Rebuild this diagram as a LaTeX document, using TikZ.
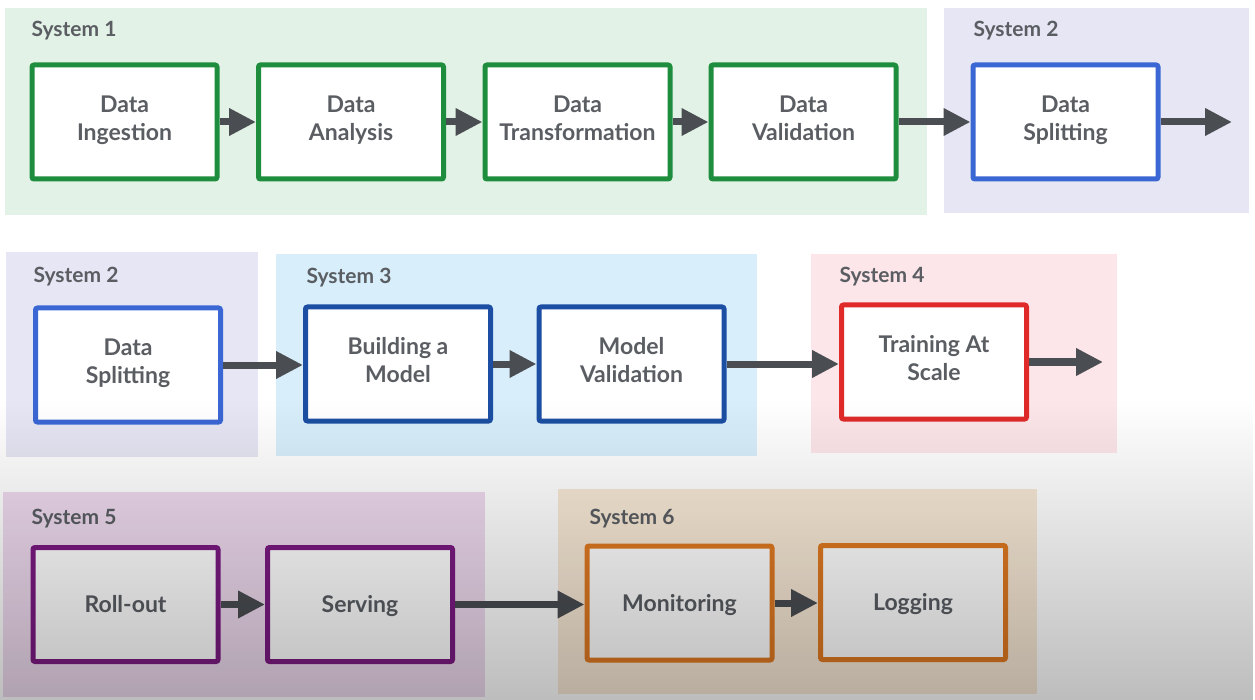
\documentclass[tikz,border=0pt]{standalone}
\usepackage{fontspec}
\setmainfont{Lato}
\usetikzlibrary{arrows.meta,fadings}

\definecolor{txtgrey}{HTML}{5A5E63}
\definecolor{arrowgrey}{HTML}{4A4D52}
\definecolor{sysonebg}{HTML}{E3F2E6}
\definecolor{systwobg}{HTML}{E6E6F4}
\definecolor{systhreebg}{HTML}{D8EFFB}
\definecolor{sysfourbg}{HTML}{FDE6EA}
\definecolor{sysfivebg}{HTML}{EEDAEE}
\definecolor{syssixbg}{HTML}{F8E9D6}
\definecolor{greenline}{HTML}{1E8E3E}
\definecolor{blueline}{HTML}{3B67D4}
\definecolor{navyline}{HTML}{1C4FA3}
\definecolor{redline}{HTML}{E02A2A}
\definecolor{purpleline}{HTML}{7B1A82}
\definecolor{orangeline}{HTML}{E07A22}

\tikzfading[name=dimfade, top color=transparent!100, bottom color=transparent!74]

\begin{document}
\begin{tikzpicture}[x=1pt, y=-1pt,
    stage/.style={draw, line width=5pt, rounded corners=2pt, fill=white,
        minimum width=185pt, minimum height=114pt, align=center,
        font=\fontsize{23}{28}\selectfont\bfseries, text=txtgrey,
        execute at begin node=\rule{0pt}{25pt}, execute at end node=\strut},
    systitle/.style={anchor=base west, font=\fontsize{21}{25}\selectfont\bfseries, text=txtgrey},
    flow/.style={draw=arrowgrey, line width=7pt, -{Triangle[length=27pt,width=26pt]}}]

    % Canvas
    \fill[white] (0, 0) rectangle (1255, 700);
    \useasboundingbox (0, 0) rectangle (1255, 700);

    % Draw the system panels
    \fill[sysonebg] (5, 8) rectangle (927, 215);
    \fill[systwobg] (944, 8) rectangle (1249, 213);
    \fill[systwobg] (6, 252) rectangle (258, 457);
    \fill[systhreebg] (276, 254) rectangle (757, 456);
    \fill[sysfourbg] (811, 254) rectangle (1117, 453);
    \fill[sysfivebg] (3, 492) rectangle (485, 697);
    \fill[syssixbg] (558, 489) rectangle (1037, 694);

    % Panel titles
    \node[systitle] (sys1) at (28, 37) {System 1};
    \node[systitle] (sys2a) at (970, 37) {System 2};
    \node[systitle] (sys2b) at (30, 283) {System 2};
    \node[systitle] (sys3) at (303, 284) {System 3};
    \node[systitle] (sys4) at (836, 283) {System 4};
    \node[systitle] (sys5) at (28, 524) {System 5};
    \node[systitle] (sys6) at (586, 524) {System 6};

    % Draw the stages
    \node[stage, draw=greenline] (ingest) at (124.5, 122) {Data\\Ingestion};
    \node[stage, draw=greenline] (analysis) at (351, 122) {Data\\Analysis};
    \node[stage, draw=greenline] (transform) at (577.5, 122) {Data\\Transformation};
    \node[stage, draw=greenline] (validate) at (803.5, 122) {Data\\Validation};
    \node[stage, draw=blueline] (splitA) at (1065.5, 122) {Data\\Splitting};

    \node[stage, draw=blueline] (splitB) at (128, 365) {Data\\Splitting};
    \node[stage, draw=navyline] (build) at (398, 364) {Building a\\Model};
    \node[stage, draw=navyline] (modelval) at (631.5, 364) {Model\\Validation};
    \node[stage, draw=redline] (train) at (934, 362) {Training At\\Scale};

    \node[stage, draw=purpleline] (rollout) at (125.5, 604.5) {Roll-out};
    \node[stage, draw=purpleline] (serving) at (360, 604.5) {Serving};
    \node[stage, draw=orangeline] (monitor) at (679.5, 603) {Monitoring};
    \node[stage, draw=orangeline] (logging) at (913, 602.5) {Logging};

    % Loose ends of the row exits
    \coordinate (outA) at (1232, 122);
    \coordinate (outB) at (1103, 362);

    % Add arrows between stages
    \draw[flow] (ingest) -- (analysis);
    \draw[flow] (analysis) -- (transform);
    \draw[flow] (transform) -- (validate);
    \draw[flow] (validate) -- (splitA);
    \draw[flow] (splitA.east) -- (outA);

    \draw[flow] (splitB) -- (build.west |- splitB);
    \draw[flow] (build) -- (modelval);
    \draw[flow] (modelval) -- (train.west |- modelval);
    \draw[flow] (train.east) -- (outB);

    \draw[flow] (rollout) -- (serving);
    \draw[flow] (serving) -- (monitor.west |- serving);
    \draw[flow] (monitor) -- (logging.west |- monitor);

    % Soft shadow over the lower part
    \fill[black, path fading=dimfade] (0, 400) rectangle (1255, 700);
\end{tikzpicture}
\end{document}
